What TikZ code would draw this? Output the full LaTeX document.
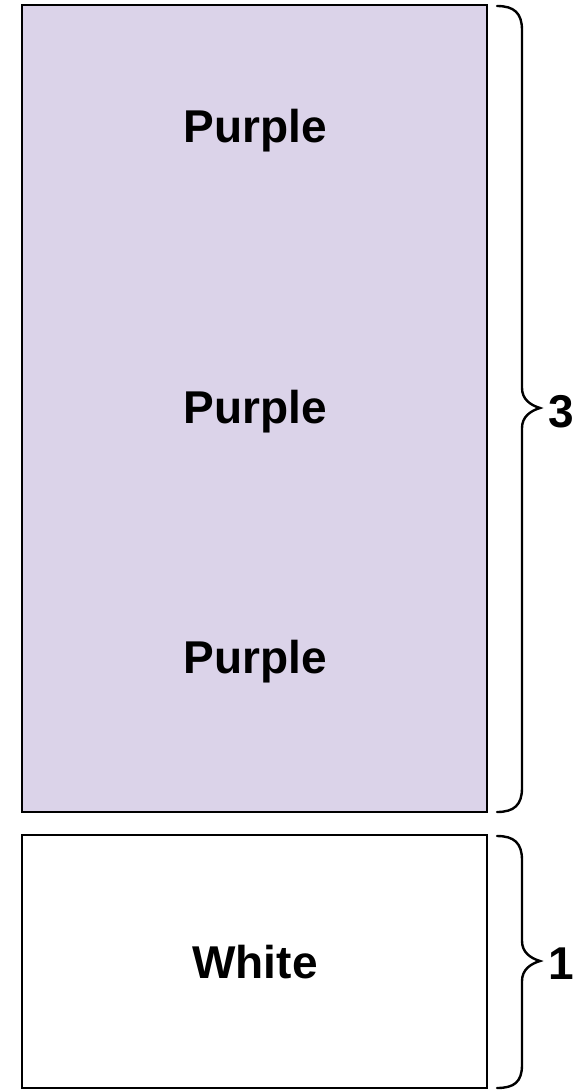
\documentclass[tikz,border=0pt]{standalone}
\usepackage{fontspec}
\setmainfont{Liberation Sans}
\definecolor{lav}{RGB}{219,211,233}
\tikzset{
  box/.style={draw=black, line width=2pt, minimum width=465pt, inner sep=0pt, outer sep=0pt},
  lbl/.style={font=\fontsize{46}{46}\selectfont\bfseries, inner sep=0pt},
  brc/.style={draw=black, line width=2.4pt, line cap=round, fill=none},
}
\begin{document}
\begin{tikzpicture}[x=1pt,y=-1pt]
\useasboundingbox (0,0) rectangle (573,1090);
\node[box, fill=lav, minimum height=807pt] (pbox) at (254.5,408.5) {};
\node[box, fill=white, minimum height=253pt] (wbox) at (254.5,961.5) {};
\node[lbl] (p1) at (255,131) {Purple};
\node[lbl] (p2) at (255,412) {Purple};
\node[lbl] (p3) at (255,662) {Purple};
\node[lbl] (w1) at (255,962) {White};
\node[lbl, anchor=west] (n3) at (548,412) {3};
\node[lbl, anchor=west] (n1) at (548,964) {1};
\draw[brc] (497,6) .. controls (514,6) and (522,13) .. (522,30) -- (522,388)
  .. controls (522,399) and (530,405) .. (540,408)
  .. controls (530,411) and (522,417) .. (522,428) -- (522,788)
  .. controls (522,805) and (514,812) .. (497,812);
\draw[brc] (497,836) .. controls (514,836) and (522,843) .. (522,860) -- (522,941)
  .. controls (522,952) and (530,958) .. (540,961)
  .. controls (530,964) and (522,970) .. (522,981) -- (522,1065)
  .. controls (522,1082) and (514,1088) .. (497,1088);
\end{tikzpicture}
\end{document}
